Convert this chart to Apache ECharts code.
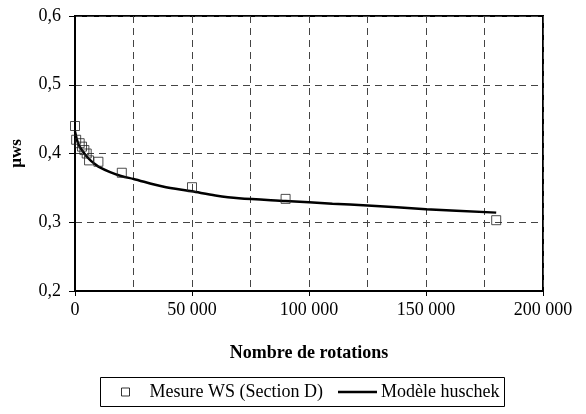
<!DOCTYPE html>
<html>
<head>
<meta charset="utf-8">
<script src="https://cdn.jsdelivr.net/npm/echarts@6/dist/echarts.min.js"></script>
<style>
  html, body { margin: 0; padding: 0; background: #fff; }
  #chart { width: 586px; height: 414px; }
</style>
</head>
<body>
<div id="chart"></div>
<script>
// mesures (carrés)
var mesure_x = [0, 500, 2000, 3000, 4000, 5000, 6000, 10000, 20000, 50000, 90000, 180000];
var mesure_y = [0.44, 0.42, 0.415, 0.41, 0.405, 0.40, 0.39, 0.388, 0.372, 0.351, 0.334, 0.303];

// modele huschek (ligne)
var modele_x = [0, 1000, 2000, 4000, 6000, 8000, 10000, 15000, 20000, 25000, 37500, 50000, 60000, 70000, 90000, 110000, 125000, 150000, 180000];
var modele_y = [0.432, 0.418, 0.41, 0.40, 0.392, 0.386, 0.381, 0.373, 0.367, 0.363, 0.352, 0.345, 0.339, 0.335, 0.331, 0.327, 0.3245, 0.319, 0.314];

var x_ticks = [0, 50000, 100000, 150000, 200000];
var y_ticks = [0.2, 0.3, 0.4, 0.5, 0.6];

function pairs(xs, ys){
    return xs.map(function(x, i){ return [x, ys[i]] })
}

var font = 'Liberation Serif'
var chart_div = echarts.init(document.getElementById('chart'))

var option = {
    animation: false,
    grid: {
        left: 71, right: 43, top: 16, bottom: 123,
        show: true, borderColor: '#000', borderWidth: 2
    },
    xAxis: {
        type: 'value',
        min: x_ticks[0], max: x_ticks[x_ticks.length - 1], interval: 50000,
        name: 'Nombre de rotations',
        nameLocation: 'middle', nameGap: 53,
        nameTextStyle: { fontFamily: font, fontWeight: 'bold', fontSize: 18, color: '#000' },
        axisLine: { lineStyle: { color: '#000', width: 2 } },
        axisTick: { show: true, length: 5, lineStyle: { color: '#000' } },
        axisLabel: {
            margin: 10, fontFamily: font, fontSize: 18, color: '#000',
            formatter: function(v){ return String(v).replace(/\B(?=(\d{3})+(?!\d))/g, ' ') }
        },
        splitLine: { show: true, lineStyle: { color: '#444', type: [7, 5], width: 1 } },
        minorTick: { show: false, splitNumber: 2 },
        minorSplitLine: { show: true, lineStyle: { color: '#444', type: [7, 5], width: 1 } }
    },
    yAxis: {
        type: 'value',
        min: y_ticks[0], max: y_ticks[y_ticks.length - 1], interval: 0.1,
        name: 'µws',
        nameLocation: 'middle', nameGap: 50,
        nameTextStyle: { fontFamily: font, fontWeight: 'bold', fontSize: 17, color: '#000' },
        axisLine: { show: true, lineStyle: { color: '#000', width: 2 } },
        axisTick: { show: true, length: 6, lineStyle: { color: '#000' } },
        axisLabel: {
            margin: 14, fontFamily: font, fontSize: 18, color: '#000',
            formatter: function(v){ return v.toFixed(1).replace('.', ',') }
        },
        splitLine: { show: true, lineStyle: { color: '#444', type: [7, 5], width: 1 } }
    },
    legend: [
        {
            data: [{ name: 'Mesure WS (Section D)', icon: 'rect',
                     itemStyle: { color: '#fff', borderColor: '#000', borderWidth: 1 } }],
            left: 121, top: 383, padding: 0,
            itemWidth: 8, itemHeight: 8, itemGap: 0,
            textStyle: { fontFamily: font, fontSize: 18, color: '#000', padding: [0, 0, 0, 15] }
        },
        {
            data: [{ name: 'Modèle huschek', icon: 'rect', itemStyle: { color: '#000' } }],
            left: 338, top: 383, padding: 0,
            itemWidth: 39, itemHeight: 2.5, itemGap: 0,
            textStyle: { fontFamily: font, fontSize: 18, color: '#000', padding: [0, 0, 0, -1] }
        }
    ],
    graphic: [{
        type: 'rect',
        shape: { x: 100.5, y: 377.5, width: 404, height: 29 },
        style: { fill: 'none', stroke: '#000', lineWidth: 1 }
    }],
    series: [
        {
            name: 'Modèle huschek',
            type: 'line',
            data: pairs(modele_x, modele_y),
            smooth: 0.3,
            symbol: 'none',
            lineStyle: { color: '#000', width: 2.5 },
            z: 2
        },
        {
            name: 'Mesure WS (Section D)',
            type: 'scatter',
            data: pairs(mesure_x, mesure_y),
            symbol: 'rect',
            symbolSize: 9,
            itemStyle: { color: 'rgba(255,255,255,0)', borderColor: '#222', borderWidth: 1 },
            z: 3
        }
    ]
};
chart_div.setOption(option, true);
</script>
</body>
</html>
